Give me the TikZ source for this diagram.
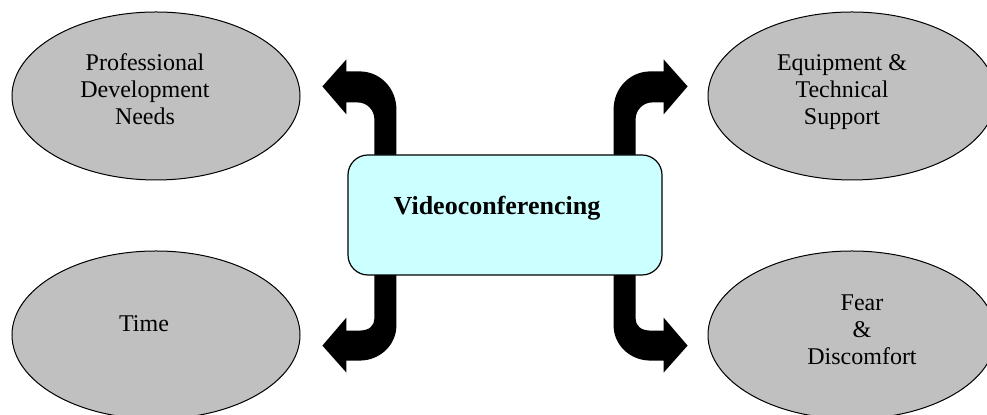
\documentclass[tikz,border=0pt]{standalone}
\usepackage{fontspec}
\setmainfont{Liberation Serif}
\usetikzlibrary{shapes.geometric, calc, backgrounds}
\definecolor{grisFactor}{HTML}{C0C0C0}
\definecolor{cianCentro}{HTML}{CCFFFF}

\begin{document}
\begin{tikzpicture}[x=0.5pt, y=-0.5pt,
        factor/.style={draw=black, line width=0.5pt, fill=grisFactor, ellipse,
            minimum width=144pt, minimum height=84pt, inner sep=0pt},
        centro/.style={draw=black, line width=0.6pt, fill=cianCentro, rounded corners=10pt,
            minimum width=157pt, minimum height=60pt, inner sep=0pt},
        txt/.style={align=center, font=\fontsize{12pt}{13.5pt}\selectfont, inner sep=0pt},
        flecha/.style={fill=black, draw=none}
    ]
        \clip (0,0) rectangle (987,415);

        % factores
        \node[factor] (prof) at (156,96) {};
        \node[factor] (equip) at (852,96) {};
        \node[factor] (time) at (156,335) {};
        \node[factor] (fear) at (852,335) {};

        \node[txt] (profT) at ($(prof)+(-11,-7)$) {Professional\\Development\\Needs};
        \node[txt] (equipT) at ($(equip)+(-10,-4)$) {Equipment \&\\Technical\\Support};
        \node[txt] (timeT) at ($(time)+(-12,-11)$) {Time};
        \node[txt] (fearT) at ($(fear)+(10,-5)$) {Fear\\\&\\Discomfort};

        % centro
        \node[centro] (vc) at (505,215) {};
        \node[txt, font=\fontsize{13pt}{15pt}\selectfont\bfseries] (vcT) at ($(vc)+(-8,-7)$) {Videoconferencing};

        % flechas curvas
        \begin{scope}[on background layer]
            \foreach \esq/\sx in {north west/1, north east/-1} {
                \begin{scope}[shift={(vc.\esq)}, xscale=\sx]
                    \fill[flecha] (49,12) -- (49,-45) .. controls (49,-66) and (33,-83) .. (12,-83)
                        -- (-1,-83) -- (-1,-95) -- (-25,-68) -- (-1,-40) -- (-1,-52) -- (10,-52)
                        .. controls (20,-52) and (27,-44) .. (27,-35) -- (27,12) -- cycle;
                \end{scope}
            }
            \foreach \esq/\sx in {south west/1, south east/-1} {
                \begin{scope}[shift={(vc.\esq)}, xscale=\sx]
                    \fill[flecha] (27,-12) -- (27,43) .. controls (27,50) and (22,55) .. (12,55)
                        -- (-1,55) -- (-1,42) -- (-25,70) -- (-1,97) -- (-1,85) -- (12,85)
                        .. controls (33,85) and (49,69) .. (49,50) -- (49,-12) -- cycle;
                \end{scope}
            }
        \end{scope}
    \end{tikzpicture}
\end{document}
